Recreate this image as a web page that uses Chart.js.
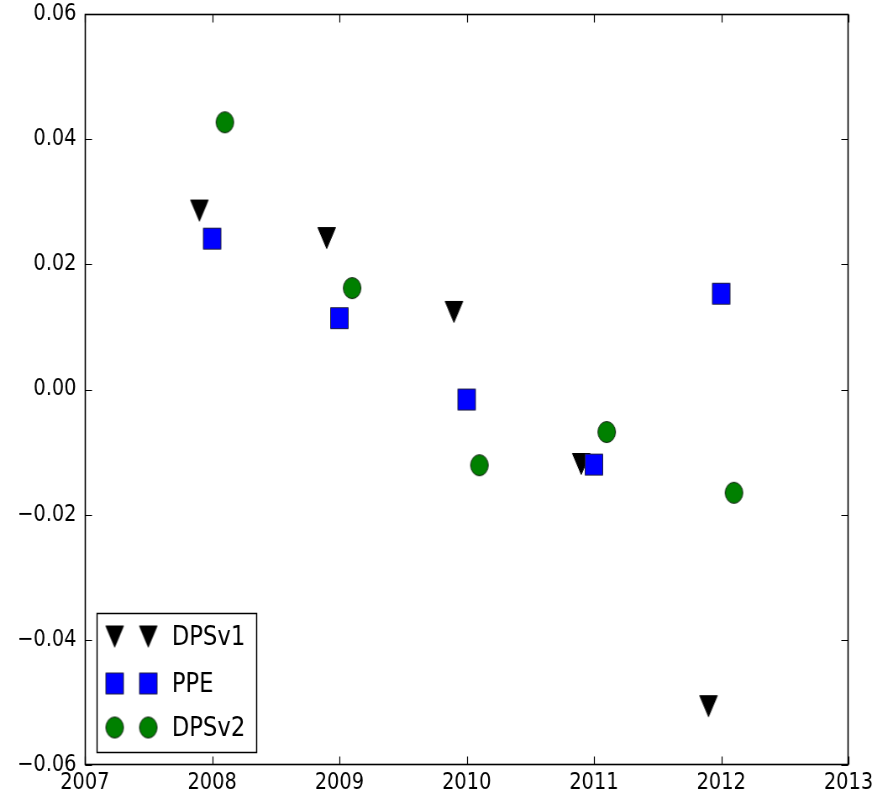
<!DOCTYPE html>
<html><head><meta charset="utf-8">
<script src="https://cdn.jsdelivr.net/npm/chart.js@4/dist/chart.umd.min.js"></script>
<style>
html,body{margin:0;padding:0;background:#fff;overflow:hidden;width:872px;height:796px;}
#wrap{position:absolute;left:0;top:0;width:1038px;height:796px;transform-origin:0 0;transform:scaleX(0.84008);}
canvas{display:block;}
</style></head><body>
<div id="wrap"><canvas id="c" width="1038" height="796" style="width:1038px;height:796px"></canvas></div>
<script>
// ---- data ----
const years = [2008, 2009, 2010, 2011, 2012];
const dpsv1 = [0.0286, 0.0242, 0.0124, -0.0119, -0.0506];
const ppe   = [0.0241, 0.0114, -0.0016, -0.0120, 0.0153];
const dpsv2 = [0.0427, 0.0162, -0.0121, -0.0068, -0.0165];
const seriesNames = ['DPSv1', 'PPE', 'DPSv2'];
const xOffsets = [-0.1, 0, 0.1];
const xTicks = [2007, 2008, 2009, 2010, 2011, 2012, 2013];
const yTicks = [-0.06, -0.04, -0.02, 0, 0.02, 0.04, 0.06];

const FONT = '"DejaVu Sans", "Liberation Sans", sans-serif';

function makeMarker(kind) {
  const s = 24, c = document.createElement('canvas');
  c.width = s; c.height = s;
  const g = c.getContext('2d');
  g.lineWidth = 1;
  g.beginPath();
  if (kind === 'tri') {
    g.moveTo(1.5, 1.5); g.lineTo(22.5, 1.5); g.lineTo(12, 22.5); g.closePath();
    g.fillStyle = '#000000'; g.strokeStyle = '#000000';
  } else if (kind === 'sq') {
    g.rect(1.5, 1.5, 21, 21);
    g.fillStyle = '#0000ff'; g.strokeStyle = '#222244';
  } else {
    g.arc(12, 12, 10.5, 0, Math.PI * 2);
    g.fillStyle = '#008000'; g.strokeStyle = '#112211';
  }
  g.fill(); g.stroke();
  return c;
}
const markers = [makeMarker('tri'), makeMarker('sq'), makeMarker('circ')];
const values = [dpsv1, ppe, dpsv2];

const datasets = values.map((vals, i) => ({
  label: seriesNames[i],
  data: years.map((yr, j) => ({ x: yr + xOffsets[i], y: vals[j] })),
  pointStyle: markers[i],
  pointRadius: 11,
  showLine: false,
  order: 3 - i
}));

const framePlugin = {
  id: 'frame',
  afterDatasetsDraw(chart) {
    const { ctx, chartArea: a, scales: { x, y } } = chart;
    ctx.save();
    ctx.strokeStyle = '#000';
    ctx.lineWidth = 1.6;
    const L = Math.round(a.left) + 0.5, R = Math.round(a.right) - 0.5;
    const T = Math.round(a.top) + 0.5, B = Math.round(a.bottom) - 0.5;
    ctx.strokeRect(L, T, R - L, B - T);
    ctx.lineWidth = 1.2;
    const tl = 8;
    ctx.beginPath();
    x.ticks.forEach(t => {
      const px = Math.round(x.getPixelForValue(t.value)) + 0.5;
      ctx.moveTo(px, B); ctx.lineTo(px, B - tl);
      ctx.moveTo(px, T); ctx.lineTo(px, T + tl);
    });
    y.ticks.forEach(t => {
      const py = Math.round(y.getPixelForValue(t.value)) + 0.5;
      ctx.moveTo(L, py); ctx.lineTo(L + tl, py);
      ctx.moveTo(R, py); ctx.lineTo(R - tl, py);
    });
    ctx.stroke();

    // legend (matplotlib-style, two markers per entry), lower left inside axes
    const bw = 190, bh = 139;
    const bx = Math.round(a.left + 14) + 0.5, by = Math.round(a.bottom - 13 - bh) + 0.5;
    ctx.fillStyle = '#fff';
    ctx.fillRect(bx, by, bw, bh);
    ctx.lineWidth = 1.5;
    ctx.strokeRect(bx, by, bw, bh);
    const rowY = [23, 70, 114];
    ctx.font = '27px ' + FONT;
    ctx.textBaseline = 'middle';
    ctx.textAlign = 'left';
    ctx.fillStyle = '#000';
    seriesNames.forEach((name, i) => {
      const cy = by + rowY[i];
      const m = markers[i];
      ctx.drawImage(m, bx + 21 - m.width / 2, cy - m.height / 2);
      ctx.drawImage(m, bx + 61 - m.width / 2, cy - m.height / 2);
      ctx.fillText(name, bx + 89, cy + 1);
    });
    ctx.restore();
  }
};

new Chart(document.getElementById('c'), {
  type: 'scatter',
  data: { datasets },
  options: {
    responsive: false,
    animation: false,
    events: [],
    layout: { padding: { top: 0, right: 28, left: 0, bottom: 0 } },
    plugins: { legend: { display: false }, tooltip: { enabled: false } },
    scales: {
      x: {
        type: 'linear', min: 2007, max: 2013,
        afterBuildTicks: s => { s.ticks = xTicks.map(v => ({ value: v })); },
        afterFit: s => { s.height = 31; s.paddingRight = 0; s.paddingLeft = 0; },
        grid: { display: false, drawTicks: false },
        border: { display: false },
        ticks: { color: '#000', font: { family: FONT, size: 23 }, padding: 4, maxRotation: 0,
                 callback: v => String(v) }
      },
      y: {
        type: 'linear', min: -0.06, max: 0.06,
        afterBuildTicks: s => { s.ticks = yTicks.map(v => ({ value: v })); },
        afterFit: s => { s.width = 101; s.paddingTop = 14; s.paddingBottom = 0; },
        grid: { display: false, drawTicks: false },
        border: { display: false },
        ticks: { color: '#000', font: { family: FONT, size: 23 }, padding: 10,
                 callback: v => (v < 0 ? '\u2212' : '') + Math.abs(v).toFixed(2) }
      }
    }
  },
  plugins: [framePlugin]
});
</script>
</body></html>
